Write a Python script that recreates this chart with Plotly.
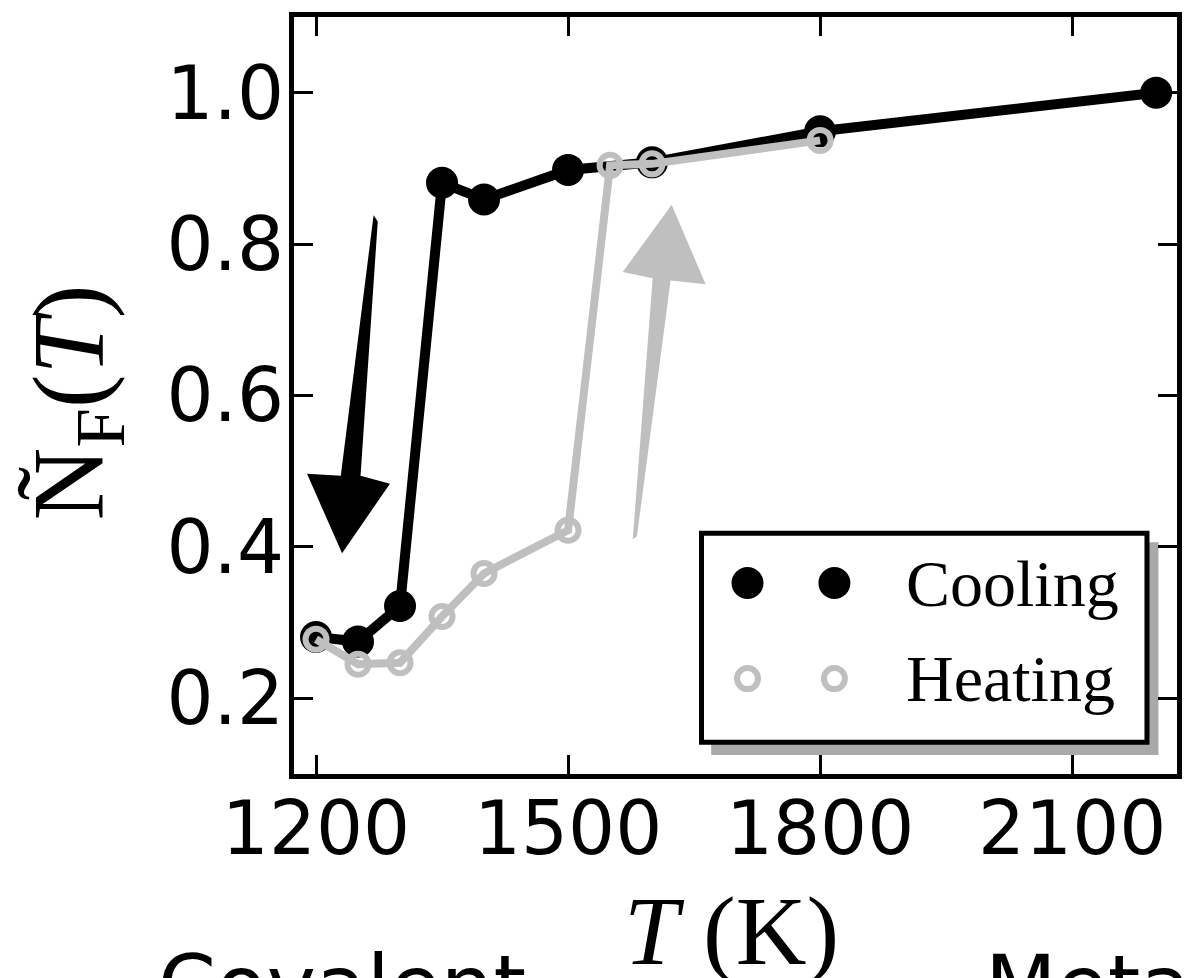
import plotly.graph_objects as go

# Temperature sweep (K) and normalised Fermi-level count
cool_T = [1200, 1250, 1300, 1350, 1400, 1500, 1600, 1800, 2200]
cool_N = [0.281, 0.275, 0.322, 0.881, 0.859, 0.898, 0.908, 0.949, 1.000]

heat_T = [1200, 1250, 1300, 1350, 1400, 1500, 1550, 1600, 1800]
heat_N = [0.278, 0.245, 0.247, 0.308, 0.365, 0.422, 0.904, 0.906, 0.937]

x_ticks = [1200, 1500, 1800, 2100]
y_ticks = [0.2, 0.4, 0.6, 0.8, 1.0]
y_tick_text = ["0.2", "0.4", "0.6", "0.8", "1.0"]

legend_labels = ["Cooling", "Heating"]

BLACK = "#000000"
GREY = "#bfbfbf"
SHADOW = "#a9a9a9"
TICK_FONT = dict(family="DejaVu Sans", size=74, color=BLACK)
SERIF = "Liberation Serif"

fig = go.Figure()

fig.add_trace(go.Scatter(
    x=cool_T, y=cool_N, mode="lines+markers", name=legend_labels[0],
    line=dict(color=BLACK, width=10),
    marker=dict(color=BLACK, size=32, symbol="circle"),
    cliponaxis=False, showlegend=False,
))
fig.add_trace(go.Scatter(
    x=heat_T, y=heat_N, mode="lines+markers", name=legend_labels[1],
    line=dict(color=GREY, width=8),
    marker=dict(color=GREY, size=21, symbol="circle-open", line=dict(color=GREY, width=6)),
    cliponaxis=False, showlegend=False,
))

# Hand-made legend: two sample markers per entry on a unit overlay axis
leg_x = [0.5136, 0.612]
leg_y = [0.2523, 0.126]
fig.add_trace(go.Scatter(
    x=leg_x, y=[leg_y[0]] * 2, xaxis="x2", yaxis="y2", mode="markers",
    marker=dict(color=BLACK, size=32), showlegend=False, hoverinfo="skip",
))
fig.add_trace(go.Scatter(
    x=leg_x, y=[leg_y[1]] * 2, xaxis="x2", yaxis="y2", mode="markers",
    marker=dict(color=GREY, size=21, symbol="circle-open", line=dict(color=GREY, width=6)),
    showlegend=False, hoverinfo="skip",
))

shapes = []
# legend frame with drop shadow
shapes.append(dict(type="rect", xref="paper", yref="paper", layer="below",
                   x0=0.4615 + 0.011, x1=0.966 + 0.013, y0=0.042 - 0.017, y1=0.318 - 0.012,
                   fillcolor=SHADOW, line=dict(width=0)))
shapes.append(dict(type="rect", xref="paper", yref="paper", layer="below",
                   x0=0.4615, x1=0.966, y0=0.042, y1=0.318,
                   fillcolor="white", line=dict(color=BLACK, width=5)))

# Cooling direction arrow (black, pointing down)
shapes.append(dict(
    type="path", xref="x", yref="y", layer="below", fillcolor=BLACK, line=dict(width=0),
    path=("M 1268.5,0.838 L 1273.5,0.830 L 1253,0.494 L 1288,0.4835 "
          "L 1231,0.3916 L 1189.3,0.4966 L 1229.5,0.494 Z"),
))
# Heating direction arrow (grey, pointing up)
shapes.append(dict(
    type="path", xref="x", yref="y", layer="below", fillcolor=GREY, line=dict(width=0),
    path=("M 1577,0.410 L 1582,0.414 L 1622,0.752 L 1663.7,0.747 "
          "L 1623.3,0.852 L 1565,0.763 L 1600.7,0.755 Z"),
))

annotations = [
    dict(text=legend_labels[0], xref="paper", yref="paper", x=0.691, y=0.2523,
         xanchor="left", yanchor="middle", showarrow=False,
         font=dict(family=SERIF, size=66, color=BLACK)),
    dict(text=legend_labels[1], xref="paper", yref="paper", x=0.691, y=0.126,
         xanchor="left", yanchor="middle", showarrow=False,
         font=dict(family=SERIF, size=66, color=BLACK)),
    # axis titles
    dict(text="<i>T</i> (K)", xref="paper", yref="paper", x=0.4955, y=-0.207,
         xanchor="center", yanchor="middle", showarrow=False,
         font=dict(family=SERIF, size=98, color=BLACK)),
    dict(text="Ñ<sub>F</sub>(<i>T</i>)", xref="paper", yref="paper", x=-0.2475, y=0.4915,
         xanchor="center", yanchor="middle", showarrow=False, textangle=-90,
         font=dict(family=SERIF, size=101, color=BLACK)),
    # labels of the neighbouring panels, running off the bottom edge
    dict(text="Covalent", xref="paper", yref="paper", x=-0.1561, y=-0.2145,
         xanchor="left", yanchor="top", showarrow=False,
         font=dict(family="DejaVu Sans", size=83, color=BLACK)),
    dict(text="Metallic", xref="paper", yref="paper", x=0.780, y=-0.2145,
         xanchor="left", yanchor="top", showarrow=False,
         font=dict(family="DejaVu Sans", size=83, color=BLACK)),
]

axis_common = dict(
    showgrid=False, zeroline=False, showline=True, linewidth=5, linecolor=BLACK,
    mirror="allticks", ticks="inside", ticklen=19, tickwidth=3, tickcolor=BLACK,
    tickfont=TICK_FONT,
)

fig.update_layout(
    width=1194, height=978,
    margin=dict(l=294, r=16, t=13, b=204),
    paper_bgcolor="white", plot_bgcolor="white",
    showlegend=False,
    xaxis=dict(range=[1173.8, 2224.8], tickvals=x_ticks, ticklabelstandoff=-14, **axis_common),
    yaxis=dict(range=[0.1, 1.1], tickvals=y_ticks, ticktext=y_tick_text,
               ticklabelstandoff=-10, **axis_common),
    xaxis2=dict(overlaying="x", range=[0, 1], visible=False),
    yaxis2=dict(overlaying="y", range=[0, 1], visible=False),
    shapes=shapes,
    annotations=annotations,
)

fig.write_html("out.html")
